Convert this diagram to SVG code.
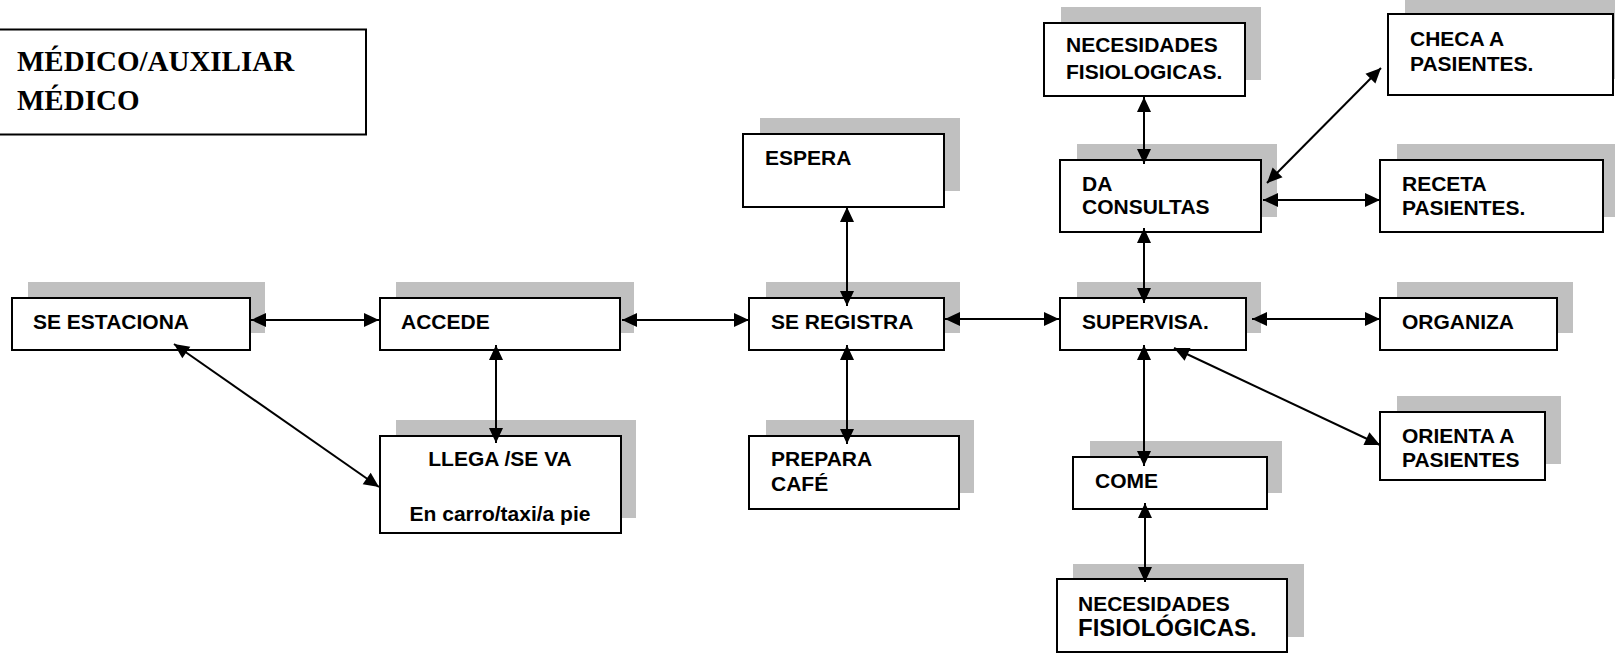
<svg xmlns="http://www.w3.org/2000/svg" width="1615" height="653" viewBox="0 0 1615 653">
<style>
.bg{fill:#fff}
.sh{fill:#c0c0c0}
.bx{fill:#fff;stroke:#000;stroke-width:2}
.t{font-family:"Liberation Sans",Arial,sans-serif;font-weight:bold;font-size:21px;fill:#000}
.c{text-anchor:middle}
.title{font-family:"Liberation Serif","Times New Roman",serif;font-weight:bold;font-size:29px;fill:#000}
.ln{stroke:#000;stroke-width:2;fill:none;marker-start:url(#ah);marker-end:url(#ah)}
</style>
<defs>
<marker id="ah" markerUnits="userSpaceOnUse" markerWidth="16" markerHeight="14" refX="15" refY="7" orient="auto-start-reverse" overflow="visible">
<path d="M0,0 L15,7 L0,14 z" fill="#000"/>
</marker>
</defs>
<rect class="bg" x="0" y="0" width="1615" height="653"/>

<g id="title">
<rect class="bx" x="-2" y="29.5" width="368" height="105"/>
<text class="title" x="17" y="71">MÉDICO/AUXILIAR</text>
<text class="title" x="17" y="110">MÉDICO</text>
</g>

<g id="se-estaciona">
<rect class="sh" x="28" y="282" width="237" height="51"/>
<rect class="bx" x="12" y="298" width="238" height="52"/>
<text class="t" x="33" y="329">SE ESTACIONA</text>
</g>

<g id="accede">
<rect class="sh" x="396" y="282" width="238" height="51"/>
<rect class="bx" x="380" y="298" width="240" height="52"/>
<text class="t" x="401" y="329">ACCEDE</text>
</g>

<g id="llega">
<rect class="sh" x="396" y="420" width="240" height="98"/>
<rect class="bx" x="380" y="436" width="241" height="97"/>
<text class="t c" x="500" y="466">LLEGA /SE VA</text>
<text class="t c" x="500" y="521">En carro/taxi/a pie</text>
</g>

<g id="espera">
<rect class="sh" x="760" y="118" width="200" height="73"/>
<rect class="bx" x="743" y="134" width="201" height="73"/>
<text class="t" x="765" y="165">ESPERA</text>
</g>

<g id="se-registra">
<rect class="sh" x="766" y="282" width="194" height="51"/>
<rect class="bx" x="749" y="298" width="195" height="52"/>
<text class="t" x="771" y="329">SE REGISTRA</text>
</g>

<g id="prepara-cafe">
<rect class="sh" x="766" y="420" width="208" height="73"/>
<rect class="bx" x="749" y="436" width="210" height="73"/>
<text class="t" x="771" y="466">PREPARA</text>
<text class="t" x="771" y="491">CAFÉ</text>
</g>

<g id="necesidades-top">
<rect class="sh" x="1061" y="7" width="200" height="73"/>
<rect class="bx" x="1044" y="23" width="201" height="73"/>
<text class="t" x="1066" y="52">NECESIDADES</text>
<text class="t" x="1066" y="79">FISIOLOGICAS.</text>
</g>

<g id="da-consultas">
<rect class="sh" x="1077" y="144" width="200" height="73"/>
<rect class="bx" x="1060" y="160" width="201" height="72"/>
<text class="t" x="1082" y="191">DA</text>
<text class="t" x="1082" y="214">CONSULTAS</text>
</g>

<g id="checa">
<rect class="sh" x="1405" y="-2" width="215" height="81"/>
<rect class="bx" x="1388" y="14" width="225" height="81"/>
<text class="t" x="1410" y="46">CHECA A</text>
<text class="t" x="1410" y="71">PASIENTES.</text>
</g>

<g id="receta">
<rect class="sh" x="1397" y="144" width="222" height="73"/>
<rect class="bx" x="1380" y="160" width="223" height="72"/>
<text class="t" x="1402" y="191">RECETA</text>
<text class="t" x="1402" y="215">PASIENTES.</text>
</g>

<g id="supervisa">
<rect class="sh" x="1077" y="282" width="184" height="51"/>
<rect class="bx" x="1060" y="298" width="186" height="52"/>
<text class="t" x="1082" y="329">SUPERVISA.</text>
</g>

<g id="organiza">
<rect class="sh" x="1397" y="282" width="176" height="51"/>
<rect class="bx" x="1380" y="298" width="177" height="52"/>
<text class="t" x="1402" y="329">ORGANIZA</text>
</g>

<g id="orienta">
<rect class="sh" x="1397" y="396" width="164" height="68"/>
<rect class="bx" x="1380" y="412" width="165" height="68"/>
<text class="t" x="1402" y="443">ORIENTA A</text>
<text class="t" x="1402" y="467">PASIENTES</text>
</g>

<g id="come">
<rect class="sh" x="1090" y="441" width="192" height="52"/>
<rect class="bx" x="1073" y="457" width="194" height="52"/>
<text class="t" x="1095" y="488">COME</text>
</g>

<g id="necesidades-bottom">
<rect class="sh" x="1073" y="564" width="231" height="73"/>
<rect class="bx" x="1057" y="579" width="230" height="73"/>
<text class="t" x="1078" y="611">NECESIDADES</text>
<text class="t" x="1078" y="636" style="font-size:24px">FISIOLÓGICAS.</text>
</g>

<g id="connectors">
<line class="ln" x1="251" y1="320" x2="379" y2="320"/>
<line class="ln" x1="174" y1="344" x2="379" y2="487"/>
<line class="ln" x1="496" y1="345" x2="496" y2="443"/>
<line class="ln" x1="622" y1="320" x2="749" y2="320"/>
<line class="ln" x1="847" y1="207" x2="847" y2="306"/>
<line class="ln" x1="847" y1="345" x2="847" y2="444"/>
<line class="ln" x1="945" y1="319" x2="1059" y2="319"/>
<line class="ln" x1="1144" y1="228" x2="1144" y2="303"/>
<line class="ln" x1="1144" y1="97" x2="1144" y2="164"/>
<line class="ln" x1="1267" y1="183" x2="1381" y2="68"/>
<line class="ln" x1="1263" y1="200" x2="1380" y2="200"/>
<line class="ln" x1="1252" y1="319" x2="1380" y2="319"/>
<line class="ln" x1="1174" y1="348" x2="1380" y2="445"/>
<line class="ln" x1="1144" y1="345" x2="1144" y2="466"/>
<line class="ln" x1="1145" y1="503" x2="1145" y2="582"/>
</g>
</svg>
